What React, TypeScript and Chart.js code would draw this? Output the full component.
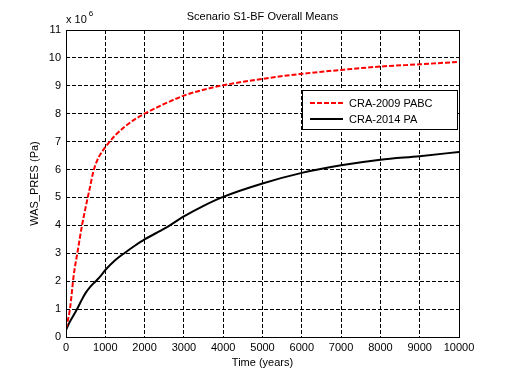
import React, { useEffect, useRef } from "react";
import { Chart, registerables } from "chart.js";

Chart.register(...registerables);

// ---- data (values in units of 1e6 Pa) ----
const timeYears = [0, 100, 200, 300, 400, 500, 600, 700, 800, 900, 1000, 1250, 1500, 1750, 2000, 2500, 3000, 3500, 4000, 5000, 6000, 7000, 8000, 9000, 10000];
const cra2009Pabc = [0.3, 1.0, 2.25, 3.1, 3.94, 4.65, 5.3, 5.95, 6.35, 6.6, 6.8, 7.22, 7.54, 7.8, 8.0, 8.35, 8.65, 8.86, 9.02, 9.25, 9.43, 9.57, 9.69, 9.77, 9.86];
const cra2014Pa = [0.25, 0.55, 0.8, 1.05, 1.33, 1.58, 1.77, 1.92, 2.06, 2.22, 2.4, 2.75, 3.02, 3.27, 3.5, 3.88, 4.32, 4.7, 5.02, 5.5, 5.88, 6.15, 6.35, 6.48, 6.63];
const seriesLabels = ["CRA-2009 PABC", "CRA-2014 PA"];
const xTickValues = [0, 1000, 2000, 3000, 4000, 5000, 6000, 7000, 8000, 9000, 10000];
const yTickValues = [0, 1, 2, 3, 4, 5, 6, 7, 8, 9, 10, 11];
const titleText = "Scenario S1-BF Overall Means";
const xAxisTitle = "Time (years)";
const yAxisTitle = "WAS_PRES (Pa)";
const exponentBase = "x 10";
const exponentPower = "6";

const FONT = "'Liberation Sans', Arial, Helvetica, sans-serif";

const framePlugin = {
  id: "frameAndText",
  afterDatasetsDraw(chart: any) {
    const { ctx, chartArea } = chart;
    const { left, top, right, bottom } = chartArea;
    ctx.save();
    ctx.setLineDash([]);
    ctx.strokeStyle = "#000";
    ctx.lineWidth = 1;
    ctx.strokeRect(Math.round(left) + 0.5, Math.round(top) + 0.5, Math.round(right - left), Math.round(bottom - top));
    ctx.restore();
  },
  afterDraw(chart: any) {
    const { ctx, chartArea } = chart;
    const { left, right } = chartArea;
    ctx.save();
    ctx.fillStyle = "#000";
    ctx.font = `11px ${FONT}`;
    ctx.textAlign = "center";
    ctx.textBaseline = "alphabetic";
    ctx.fillText(titleText, (left + right) / 2, 20);
    ctx.textAlign = "left";
    ctx.font = `11px ${FONT}`;
    ctx.fillText(exponentBase, left, 23);
    const w = ctx.measureText(exponentBase).width;
    ctx.font = `8px ${FONT}`;
    ctx.fillText(exponentPower, left + w + 2, 16);

    // legend box
    const bx = 302, by = 90, bw = 155, bh = 39;
    ctx.fillStyle = "#fff";
    ctx.fillRect(bx, by, bw, bh);
    ctx.strokeStyle = "#000";
    ctx.lineWidth = 1;
    ctx.setLineDash([]);
    ctx.strokeRect(bx + 0.5, by + 0.5, bw, bh);
    const rows = [103, 119];
    chart.data.datasets.forEach((ds: any, i: number) => {
      const y = rows[i];
      ctx.save();
      ctx.strokeStyle = ds.borderColor;
      ctx.lineWidth = ds.borderWidth;
      ctx.setLineDash(ds.borderDash || []);
      ctx.beginPath();
      ctx.moveTo(310, y);
      ctx.lineTo(343, y);
      ctx.stroke();
      ctx.restore();
      ctx.fillStyle = "#000";
      ctx.font = `11px ${FONT}`;
      ctx.textBaseline = "middle";
      ctx.textAlign = "left";
      ctx.fillText(ds.label, 349, y + 0.5);
    });
    ctx.restore();
  },
};

export default function App() {
  const canvasRef = useRef<HTMLCanvasElement | null>(null);

  useEffect(() => {
    const canvas = canvasRef.current;
    if (!canvas) return;
    const chart = new Chart(canvas, {
      type: "line",
      data: {
        datasets: [
          {
            label: seriesLabels[0],
            data: timeYears.map((t, i) => ({ x: t, y: cra2009Pabc[i] })),
            borderColor: "#ff0000",
            borderWidth: 2,
            borderDash: [5, 2],
            pointRadius: 0,
            cubicInterpolationMode: "monotone",
            fill: false,
          },
          {
            label: seriesLabels[1],
            data: timeYears.map((t, i) => ({ x: t, y: cra2014Pa[i] })),
            borderColor: "#000000",
            borderWidth: 2,
            pointRadius: 0,
            cubicInterpolationMode: "monotone",
            fill: false,
          },
        ],
      },
      options: {
        responsive: false,
        animation: false,
        devicePixelRatio: 1,
        layout: { padding: { top: 30, right: 49, left: 0, bottom: 0 } },
        plugins: {
          legend: { display: false },
          title: { display: false },
          tooltip: { enabled: false },
        },
        scales: {
          x: {
            type: "linear",
            min: 0,
            max: 10000,
            afterBuildTicks: (scale: any) => {
              scale.ticks = xTickValues.map((v) => ({ value: v }));
            },
            afterFit: (scale: any) => {
              scale.height = 43;
            },
            ticks: {
              color: "#000",
              font: { family: FONT, size: 11 },
              padding: 4,
              maxRotation: 0,
              autoSkip: false,
              callback: (v: any) => String(v),
            },
            grid: { color: "#000", lineWidth: 1, drawTicks: false },
            border: { display: false, dash: [4, 2] },
            title: {
              display: true,
              text: xAxisTitle,
              color: "#000",
              font: { family: FONT, size: 11 },
              padding: { top: 0, bottom: 10 },
            },
          },
          y: {
            type: "linear",
            min: 0,
            max: 11,
            afterBuildTicks: (scale: any) => {
              scale.ticks = yTickValues.map((v) => ({ value: v }));
            },
            afterFit: (scale: any) => {
              scale.width = 66;
            },
            ticks: {
              color: "#000",
              font: { family: FONT, size: 11 },
              padding: 5,
              autoSkip: false,
              callback: (v: any) => String(v),
            },
            grid: { color: "#000", lineWidth: 1, drawTicks: false },
            border: { display: false, dash: [4, 2] },
            title: {
              display: true,
              text: yAxisTitle,
              color: "#000",
              font: { family: FONT, size: 11 },
              padding: { top: 28, bottom: 0 },
            },
          },
        },
      },
      plugins: [framePlugin],
    } as any);
    return () => chart.destroy();
  }, []);

  return (
    <div style={{ position: "fixed", left: 0, top: 0, width: 508, height: 380, background: "#fff" }}>
      <canvas ref={canvasRef} width={508} height={380} style={{ display: "block", width: 508, height: 380 }} />
    </div>
  );
}
